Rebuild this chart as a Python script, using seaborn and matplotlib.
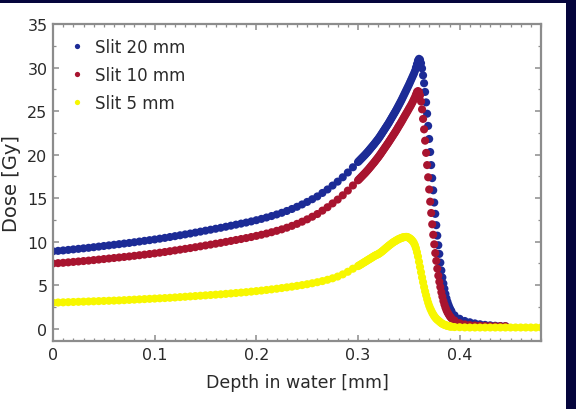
import numpy as np
import pandas as pd
import matplotlib
matplotlib.use("Agg")
import matplotlib.pyplot as plt
import seaborn as sns
from matplotlib.patches import Rectangle
from matplotlib.ticker import MultipleLocator

# Depth in water (mm) at which the dose was scored
depth_mm = [
    0.000, 0.005, 0.010, 0.015, 0.020, 0.025, 0.030, 0.035, 0.040, 0.045,
    0.050, 0.055, 0.060, 0.065, 0.070, 0.075, 0.080, 0.085, 0.090, 0.095,
    0.100, 0.105, 0.110, 0.115, 0.120, 0.125, 0.130, 0.135, 0.140, 0.145,
    0.150, 0.155, 0.160, 0.165, 0.170, 0.175, 0.180, 0.185, 0.190, 0.195,
    0.200, 0.205, 0.210, 0.215, 0.220, 0.225, 0.230, 0.235, 0.240, 0.245,
    0.250, 0.255, 0.260, 0.265, 0.270, 0.275, 0.280, 0.285, 0.290, 0.295,
    0.300, 0.301, 0.302, 0.303, 0.304, 0.305, 0.306, 0.307, 0.308, 0.309,
    0.310, 0.311, 0.312, 0.313, 0.314, 0.315, 0.316, 0.317, 0.318, 0.319,
    0.320, 0.321, 0.322, 0.323, 0.324, 0.325, 0.326, 0.327, 0.328, 0.329,
    0.330, 0.331, 0.332, 0.333, 0.334, 0.335, 0.336, 0.337, 0.338, 0.339,
    0.340, 0.341, 0.342, 0.343, 0.344, 0.345, 0.346, 0.347, 0.348, 0.349,
    0.350, 0.351, 0.352, 0.353, 0.354,
    0.355, 0.356, 0.357, 0.358, 0.359, 0.360, 0.361, 0.362, 0.363, 0.364,
    0.365, 0.366, 0.367, 0.368, 0.369, 0.370, 0.371, 0.372, 0.373, 0.374,
    0.375, 0.376, 0.377, 0.378, 0.379, 0.380, 0.381, 0.382, 0.383, 0.384,
    0.385, 0.386, 0.387, 0.388, 0.389, 0.390, 0.391, 0.392,
    0.395, 0.400, 0.405, 0.410, 0.415, 0.420, 0.425, 0.430, 0.435, 0.440,
    0.445, 0.450, 0.455, 0.460, 0.465, 0.470, 0.475, 0.480,
]

nan = float("nan")

dose_slit_20 = [
    8.90, 8.95, 9.00, 9.06, 9.12, 9.18, 9.24, 9.30, 9.37, 9.44,
    9.51, 9.58, 9.65, 9.72, 9.79, 9.86, 9.94, 10.02, 10.10, 10.18,
    10.26, 10.35, 10.44, 10.54, 10.64, 10.74, 10.84, 10.94, 11.05, 11.16,
    11.27, 11.38, 11.49, 11.60, 11.72, 11.84, 11.96, 12.08, 12.20, 12.33,
    12.47, 12.62, 12.78, 12.95, 13.13, 13.32, 13.53, 13.76, 14.01, 14.28,
    14.57, 14.88, 15.20, 15.60, 16.00, 16.45, 16.90, 17.40, 17.95, 18.55,
    19.15, 19.27, 19.39, 19.51, 19.63, 19.75, 19.87, 19.99, 20.12, 20.25,
    20.38, 20.52, 20.66, 20.80, 20.94, 21.08, 21.22, 21.37, 21.52, 21.67,
    21.82, 21.99, 22.16, 22.34, 22.52, 22.70, 22.88, 23.06, 23.24, 23.42,
    23.60, 23.80, 24.00, 24.20, 24.40, 24.60, 24.80, 25.00, 25.21, 25.43,
    25.65, 25.87, 26.09, 26.32, 26.56, 26.80, 27.04, 27.28, 27.52, 27.76,
    28.00, 28.26, 28.52, 28.78, 29.04,
    29.30, 29.60, 30.00, 30.40, 30.80, 31.00, 30.90, 30.50, 29.90, 29.10,
    28.20, 27.20, 26.00, 24.70, 23.30, 21.80, 20.30, 18.80, 17.30, 15.90,
    14.50, 13.20, 11.90, 10.70, 9.60, 8.60, 7.60, 6.70, 5.90, 5.20,
    4.60, 4.00, 3.50, 3.10, 2.75, 2.45, 2.20, 2.00,
    1.55, 1.15, 0.90, 0.75, 0.62, 0.52, 0.45, 0.40, 0.35, 0.32,
    0.30, nan, nan, nan, nan, nan, nan, nan,
]

dose_slit_10 = [
    7.50, 7.54, 7.58, 7.63, 7.68, 7.73, 7.78, 7.83, 7.89, 7.95,
    8.01, 8.07, 8.13, 8.19, 8.25, 8.31, 8.38, 8.45, 8.52, 8.59,
    8.66, 8.74, 8.82, 8.91, 9.00, 9.09, 9.18, 9.27, 9.37, 9.47,
    9.57, 9.67, 9.77, 9.87, 9.98, 10.09, 10.20, 10.31, 10.42, 10.54,
    10.67, 10.80, 10.94, 11.09, 11.25, 11.42, 11.61, 11.82, 12.05, 12.30,
    12.57, 12.87, 13.18, 13.57, 13.96, 14.40, 14.84, 15.33, 15.87, 16.46,
    17.05, 17.17, 17.29, 17.41, 17.53, 17.65, 17.77, 17.89, 18.02, 18.15,
    18.28, 18.42, 18.56, 18.70, 18.84, 18.98, 19.12, 19.27, 19.42, 19.57,
    19.72, 19.88, 20.04, 20.21, 20.38, 20.55, 20.72, 20.89, 21.06, 21.23,
    21.40, 21.58, 21.76, 21.94, 22.12, 22.30, 22.48, 22.66, 22.85, 23.05,
    23.25, 23.44, 23.63, 23.83, 24.03, 24.24, 24.44, 24.64, 24.84, 25.04,
    25.25, 25.45, 25.65, 25.87, 26.10,
    26.35, 26.60, 26.90, 27.20, 27.30, 27.20, 26.80, 26.10, 25.20, 24.10,
    22.90, 21.60, 20.20, 18.80, 17.40, 16.00, 14.60, 13.30, 12.00, 10.80,
    9.70, 8.70, 7.80, 6.90, 6.10, 5.40, 4.80, 4.20, 3.70, 3.20,
    2.80, 2.45, 2.15, 1.90, 1.70, 1.50, 1.35, 1.20,
    0.95, 0.65, 0.50, 0.42, 0.38, 0.35, 0.33, 0.31, 0.30, 0.30,
    0.30, nan, nan, nan, nan, nan, nan, nan,
]

dose_slit_5 = [
    3.00, 3.02, 3.04, 3.06, 3.08, 3.10, 3.12, 3.14, 3.16, 3.18,
    3.20, 3.22, 3.24, 3.26, 3.29, 3.32, 3.35, 3.38, 3.41, 3.44,
    3.47, 3.50, 3.53, 3.56, 3.60, 3.64, 3.68, 3.72, 3.76, 3.80,
    3.84, 3.88, 3.92, 3.96, 4.01, 4.06, 4.11, 4.16, 4.21, 4.27,
    4.33, 4.39, 4.46, 4.53, 4.60, 4.68, 4.76, 4.84, 4.93, 5.02,
    5.12, 5.23, 5.35, 5.48, 5.63, 5.80, 6.00, 6.25, 6.55, 6.90,
    7.20, 7.27, 7.34, 7.41, 7.48, 7.56, 7.63, 7.70, 7.77, 7.85,
    7.92, 7.99, 8.06, 8.13, 8.21, 8.28, 8.35, 8.42, 8.48, 8.53,
    8.58, 8.66, 8.74, 8.83, 8.92, 9.02, 9.12, 9.22, 9.32, 9.42,
    9.52, 9.61, 9.70, 9.79, 9.88, 9.96, 10.03, 10.10, 10.17, 10.24,
    10.30, 10.35, 10.40, 10.45, 10.49, 10.52, 10.54, 10.55, 10.55, 10.52,
    10.45, 10.38, 10.29, 10.17, 10.03,
    9.85, 9.60, 9.25, 8.80, 8.30, 7.70, 7.10, 6.50, 5.90, 5.35,
    4.80, 4.30, 3.85, 3.40, 3.00, 2.65, 2.35, 2.10, 1.85, 1.65,
    1.45, 1.30, 1.15, 1.05, 0.95, 0.85, 0.75, 0.65, 0.58, 0.52,
    0.46, 0.42, 0.38, 0.34, 0.31, 0.28, 0.26, 0.24,
    0.20, 0.18, 0.16, 0.15, 0.15, 0.15, 0.15, 0.15, 0.15, 0.15,
    0.15, 0.15, 0.15, 0.15, 0.15, 0.15, 0.15, 0.15,
]

series_names = ["Slit 20 mm", "Slit 10 mm", "Slit 5 mm"]
series_colors = ["#1c2b96", "#a8142f", "#f7f700"]

x_ticks = [0.0, 0.1, 0.2, 0.3, 0.4]
x_tick_labels = ["0", "0.1", "0.2", "0.3", "0.4"]
y_ticks = [0, 5, 10, 15, 20, 25, 30, 35]

wide = pd.DataFrame({
    "depth": depth_mm,
    series_names[0]: dose_slit_20,
    series_names[1]: dose_slit_10,
    series_names[2]: dose_slit_5,
})
long = wide.melt(id_vars="depth", var_name="slit", value_name="dose").dropna()

sns.set_style("ticks")
plt.rcParams["font.family"] = ["DejaVu Sans"]

navy = "#05053c"
text_color = "#2a2a2a"
frame_color = "#8c8c8c"

fig = plt.figure(figsize=(5.76, 4.10), dpi=100, facecolor=navy)
fig.add_artist(Rectangle((0, 0), 566 / 576, 406 / 410, transform=fig.transFigure,
                         facecolor="white", edgecolor="none", zorder=-5))
ax = fig.add_axes([53 / 576, 1 - 342 / 410, 488 / 576, 317 / 410])
ax.set_facecolor("white")

sns.scatterplot(data=long, x="depth", y="dose", hue="slit",
                hue_order=series_names, palette=series_colors,
                s=34, linewidth=0, marker="o", ax=ax)

ax.set_xlim(0, 0.48)
ax.set_ylim(-1.4, 35)
ax.set_xticks(x_ticks, x_tick_labels)
ax.set_yticks(y_ticks)
ax.xaxis.set_minor_locator(MultipleLocator(0.01))
ax.yaxis.set_minor_locator(MultipleLocator(2.5))

ax.tick_params(which="both", direction="in", top=True, right=True, color=frame_color)
ax.tick_params(which="major", length=4, width=1.1, labelsize=11.5, pad=4,
               labelcolor=text_color)
ax.tick_params(which="minor", length=2.5, width=0.9)
for spine in ax.spines.values():
    spine.set_color(frame_color)
    spine.set_linewidth(1.6)

ax.set_xlabel("Depth in water [mm]", fontsize=12.5, color=text_color, labelpad=8)
ax.set_ylabel("Dose [Gy]", fontsize=14, color=text_color)
ax.yaxis.set_label_coords(-0.066, 0.5)

handles, labels = ax.get_legend_handles_labels()
leg = ax.legend(handles, labels, loc="upper left", bbox_to_anchor=(0.035, 0.955),
                frameon=False, fontsize=12, markerscale=0.65, handlelength=0.8,
                handletextpad=0.7, labelspacing=0.6, borderaxespad=0, borderpad=0)
for t in leg.get_texts():
    t.set_color(text_color)

fig.savefig("out.png", dpi=100, facecolor=navy)
